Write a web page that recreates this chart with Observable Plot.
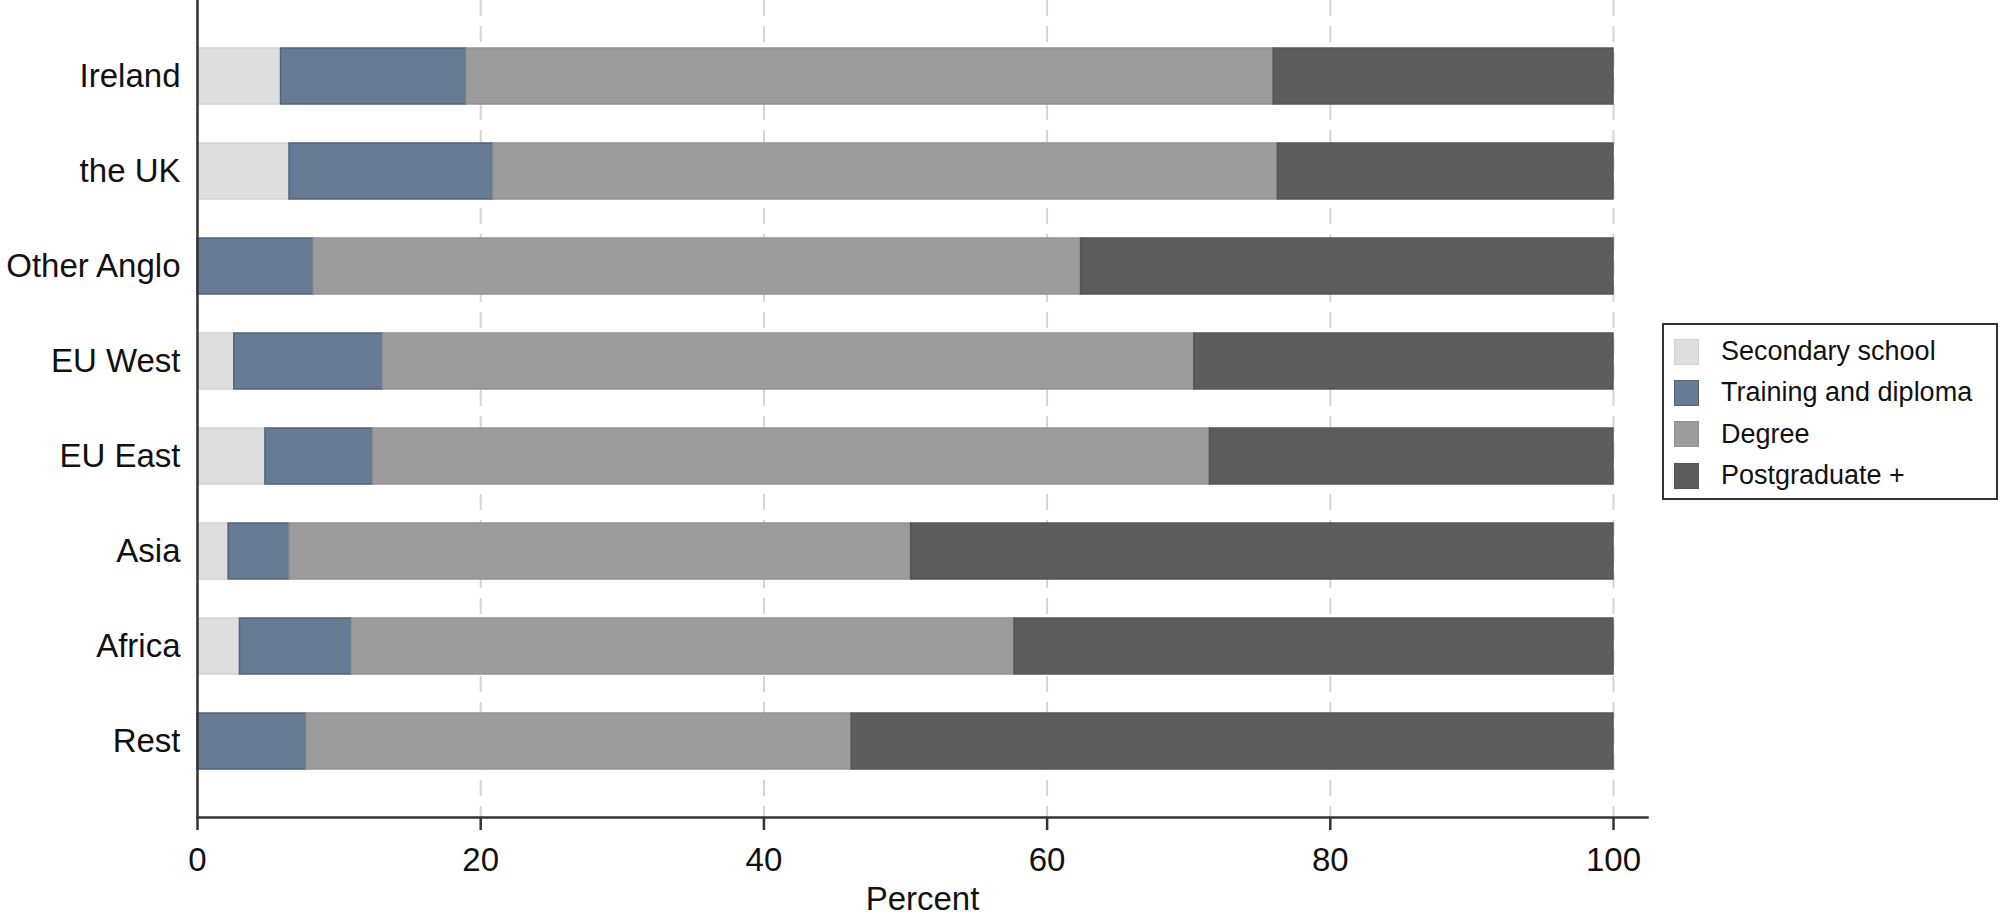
<!DOCTYPE html>
<html>
<head>
<meta charset="utf-8">
<script src="https://cdn.jsdelivr.net/npm/d3@7"></script>
<script src="https://cdn.jsdelivr.net/npm/@observablehq/plot@0.6"></script>
<style>
  html, body { margin: 0; padding: 0; background: #fff; }
  body { font-family: "Liberation Sans", Arial, sans-serif; }
  #wrap { position: relative; width: 2000px; height: 916px; overflow: hidden; }
  #legend {
    position: absolute; left: 1662px; top: 323px;
    width: 332px; height: 167px; padding-top: 6px;
    border: 2px solid #333; background: #fff;
    font-family: "Liberation Sans", Arial, sans-serif; font-size: 27px; color: #111;
  }
  .row { display: flex; align-items: center; height: 41.3px; padding-left: 10px; }
  .sw { width: 25px; height: 26px; margin-right: 22px; box-sizing: border-box; border: 1px solid; }
</style>
</head>
<body>
<div id="wrap"></div>
<script>
// ---- data ----
const regions = ["Ireland", "the UK", "Other Anglo", "EU West", "EU East", "Asia", "Africa", "Rest"];
const levels = ["Secondary school", "Training and diploma", "Degree", "Postgraduate +"];
const secondary = [5.9, 6.5, 0, 2.6, 4.8, 2.2, 3.0, 0];
const training  = [13.1, 14.4, 8.2, 10.5, 7.6, 4.3, 7.9, 7.7];
const degree    = [57.0, 55.4, 54.2, 57.3, 59.1, 43.9, 46.8, 38.5];
const postgrad  = [24.0, 23.7, 37.6, 29.6, 28.5, 49.6, 42.3, 53.8];
const xTicks = [0, 20, 40, 60, 80, 100];
const gridTicks = [20, 40, 60, 80, 100];

// ---- styles ----
const fills   = ["#dedede", "#677b95", "#9c9c9c", "#5d5d5d"];
const strokes = ["#d2d2d2", "#52637b", "#929292", "#555555"];

const series = [secondary, training, degree, postgrad];
const data = [];
regions.forEach((r, i) => {
  levels.forEach((l, j) => {
    data.push({region: r, level: l, value: series[j][i], fill: fills[j], stroke: strokes[j]});
  });
});

const font = '"Liberation Sans", Arial, sans-serif';

const chart = Plot.plot({
  width: 2000,
  height: 916,
  marginLeft: 197,
  marginRight: 353,
  marginTop: 0,
  marginBottom: 99,
  style: {fontFamily: font, fontSize: "33px", color: "#111", background: "transparent"},
  x: {domain: [0, 102.4]},
  y: {domain: regions, paddingInner: 0.41, paddingOuter: 0.49},
  color: {type: "identity"},
  marks: [
    Plot.ruleX(gridTicks, {stroke: "#d4d4d4", strokeWidth: 2, strokeDasharray: "16,10"}),
    Plot.barX(data, Plot.stackX({
      x: "value", y: "region", z: "level", order: levels,
      fill: "fill", stroke: "stroke", strokeWidth: 1.5
    })),
    Plot.ruleX([0], {stroke: "#333", strokeWidth: 2.5}),
    Plot.frame({anchor: "bottom", stroke: "#333", strokeWidth: 2.5}),
    Plot.axisX({
      ticks: xTicks, tickSize: 13, tickPadding: 17, stroke: "#333", strokeWidth: 2.5,
      fontSize: 33, label: "Percent", labelAnchor: "center", labelArrow: "none", labelOffset: 92,
      tickFormat: d => String(d)
    }),
    Plot.axisY({tickSize: 0, tickPadding: 17, fontSize: 33, label: null})
  ]
});

const wrap = document.getElementById("wrap");
wrap.appendChild(chart);

// legend
const legend = document.createElement("div");
legend.id = "legend";
levels.forEach((l, j) => {
  const row = document.createElement("div");
  row.className = "row";
  const sw = document.createElement("div");
  sw.className = "sw";
  sw.style.background = fills[j];
  sw.style.borderColor = strokes[j];
  const t = document.createElement("span");
  t.textContent = l;
  row.appendChild(sw);
  row.appendChild(t);
  legend.appendChild(row);
});
wrap.appendChild(legend);
</script>
</body>
</html>
